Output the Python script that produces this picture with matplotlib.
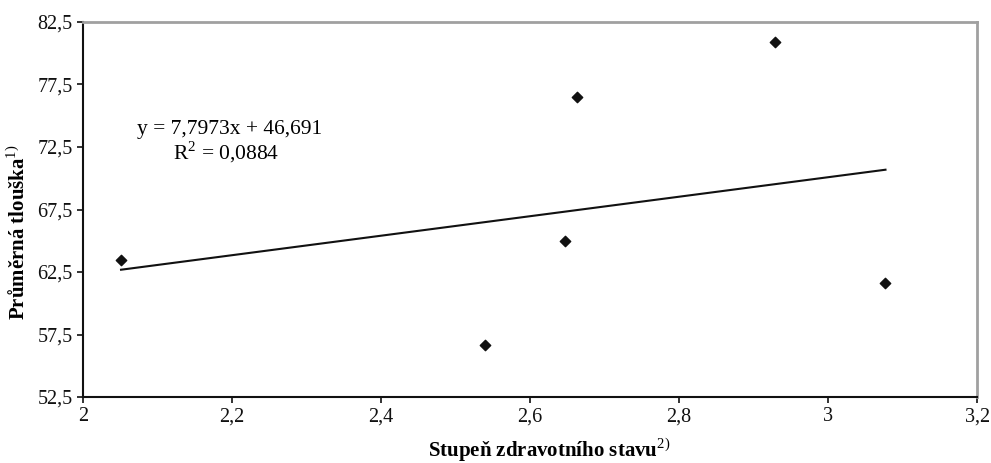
import matplotlib.pyplot as plt
import numpy as np
from matplotlib.ticker import FuncFormatter

plt.rcParams['font.family'] = ['Liberation Serif', 'DejaVu Serif']
plt.rcParams['mathtext.fontset'] = 'custom'
plt.rcParams['mathtext.rm'] = 'Liberation Serif'
plt.rcParams['mathtext.bf'] = 'Liberation Serif:bold'

# data
health = [2.051, 2.540, 2.647, 2.663, 2.929, 3.077]
thickness = [63.5, 56.7, 65.0, 76.5, 80.9, 61.6]
slope = 7.7973
intercept = 46.691
r2 = 0.0884

fig = plt.figure(figsize=(9.91, 4.63), dpi=100)
ax = fig.add_axes([0.0838, 0.1425, 0.9022, 0.81])

ax.scatter(health, thickness, marker='D', s=28, color='#111111', zorder=3)

xs = np.array([min(health), max(health)])
ax.plot(xs, slope * xs + intercept, color='#111111', lw=1.5)

ax.text(2.197, 73.9, 'y = 7,7973x + 46,691', ha='center', va='center', fontsize=15.5)
ax.text(2.192, 72.1, 'R$^2$ = 0,0884', ha='center', va='center', fontsize=15.5)

ax.set_xlim(2, 3.2)
ax.set_ylim(52.5, 82.5)
ax.set_xticks(np.arange(2, 3.21, 0.2))
ax.set_yticks(np.arange(52.5, 82.6, 5))

def comma(v, pos):
    s = ('%.1f' % v).replace('.', ',')
    if s.endswith(',0'):
        s = s[:-2]
    return s

ax.xaxis.set_major_formatter(FuncFormatter(comma))
ax.yaxis.set_major_formatter(FuncFormatter(comma))
ax.tick_params(labelsize=14.5, direction='out', length=4, width=1.2, colors='#111111')

for side in ['top', 'right']:
    ax.spines[side].set_color('#a0a0a0')
    ax.spines[side].set_linewidth(2)
for side in ['left', 'bottom']:
    ax.spines[side].set_color('#111111')
    ax.spines[side].set_linewidth(1.5)

# axis titles
fig.text(0.554, 0.029, r'Stupeň zdravotního stavu$^{2)}$', fontsize=15, fontweight='bold',
         ha='center', va='center')
fig.text(0.019, 0.499, r'Průměrná tlouška$^{1)}$', fontsize=15, fontweight='bold',
         ha='center', va='center', rotation=90)

fig.savefig('out.png', dpi=100)
